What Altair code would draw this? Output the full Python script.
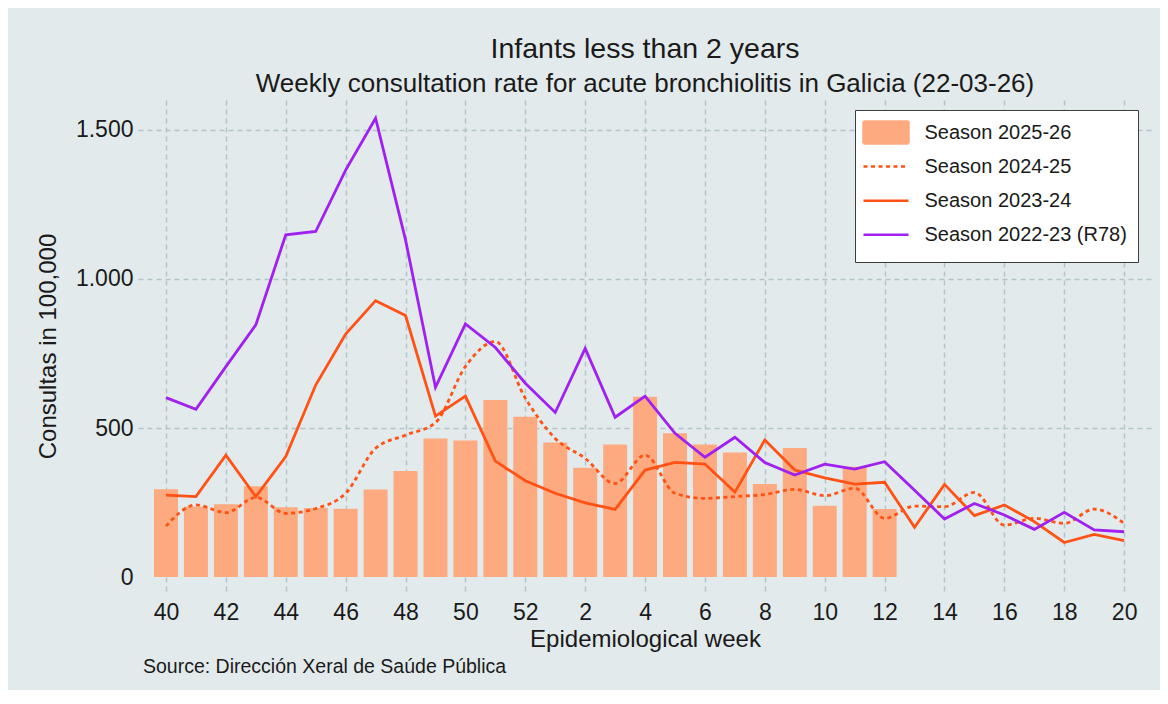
import altair as alt
import pandas as pd

# ---------------- data ----------------
weeks = [40, 41, 42, 43, 44, 45, 46, 47, 48, 49, 50, 51, 52,
         1, 2, 3, 4, 5, 6, 7, 8, 9, 10, 11, 12, 13, 14, 15, 16, 17, 18, 19, 20]

season_2025_26 = [295, 236, 244, 305, 234, 232, 229, 294, 356, 465, 458, 594, 538,
                  451, 367, 445, 605, 482, 445, 418, 312, 433, 239, 370, 228]

season_2024_25 = [171, 242, 216, 267, 214, 230, 281, 432, 476, 518, 706, 790, 600,
                  465, 398, 314, 409, 281, 264, 270, 277, 294, 273, 298, 197, 238,
                  236, 284, 174, 197, 180, 228, 180]

season_2023_24 = [275, 270, 409, 270, 404, 644, 815, 927, 877, 540, 607, 389, 323,
                  281, 249, 227, 359, 385, 379, 285, 460, 359, 333, 312, 318, 167,
                  311, 206, 242, 186, 116, 143, 122]

season_2022_23 = [602, 563, 706, 846, 1148, 1159, 1365, 1539, 1131, 636, 849, 770, 650,
                  552, 767, 536, 607, 482, 402, 469, 384, 342, 379, 362, 387, 291,
                  195, 247, 208, 160, 217, 158, 152]

series_names = ["Season 2025-26", "Season 2024-25", "Season 2023-24", "Season 2022-23 (R78)"]

y_ticks = [0, 500, 1000, 1500]

# ---------------- styles ----------------
FONT = "Liberation Sans"
TXT = "#1a1a1a"
BAR = "#fdaa80"
ORANGE = "#ff5214"
PURPLE = "#a020f0"
GRID = "#b2c5ca"
LW = 2.8

LINE_SYM = "M0,-1.1M-2.25,0H2.25M0,1.1"
leg_fill = [BAR, "transparent", "transparent", "transparent"]
leg_stroke = [BAR, ORANGE, ORANGE, PURPLE]
leg_shape = ["M-2.25,-1.1H2.25V1.1H-2.25Z", LINE_SYM, LINE_SYM, LINE_SYM]
leg_dash = [[1, 0], [4, 3.5], [1, 0], [1, 0]]

idx = list(range(len(weeks)))

bar_df = pd.DataFrame({"idx": idx[:len(season_2025_26)],
                       "week": weeks[:len(season_2025_26)],
                       "value": season_2025_26})


def line_df(vals):
    return pd.DataFrame({"idx": idx, "week": weeks, "value": vals})


df_2425 = line_df(season_2024_25)
df_2324 = line_df(season_2023_24)
df_2223 = line_df(season_2022_23)
legend_df = pd.DataFrame({"series": series_names})

week_arr = "[" + ",".join(str(w) for w in weeks) + "]"

x_enc = alt.X(
    "idx:Q",
    scale=alt.Scale(domain=[-0.935, 32.93], nice=False, zero=False, padding=0),
    axis=alt.Axis(
        values=list(range(0, len(weeks), 2)),
        labelExpr=week_arr + "[datum.value]",
        title="Epidemiological week",
        domain=False, ticks=False,
        labelFontSize=23, labelPadding=9, labelColor=TXT, labelFont=FONT,
        titleFontSize=24, titleFontWeight="normal", titlePadding=3,
        titleColor=TXT, titleFont=FONT,
        grid=True, gridColor=GRID, gridDash=[5, 4], gridWidth=1.5,
        labelFlush=False,
    ),
)

y_enc = alt.Y(
    "value:Q",
    scale=alt.Scale(domain=[-50, 1600], nice=False, zero=False),
    axis=alt.Axis(
        values=y_ticks,
        labelExpr="replace(format(datum.value, ','), ',', '.')",
        title="Consultas in 100,000",
        domain=False, ticks=False,
        labelFontSize=23, labelPadding=5, labelColor=TXT, labelFont=FONT,
        titleFontSize=24, titleFontWeight="normal", titlePadding=15,
        titleColor=TXT, titleFont=FONT,
        grid=True,
        gridColor={"condition": {"test": "datum.value === 0", "value": "transparent"},
                   "value": GRID},
        gridDash=[5, 4], gridWidth=1.5,
    ),
)

legend = alt.Legend(
    title=None,
    orient="none", legendX=717, legendY=10,
    padding=11, rowPadding=1.1,
    symbolSize=400, symbolStrokeWidth=2.5, symbolOpacity=1,
    symbolOffset=8.5, labelOffset=27,
    labelFontSize=20, labelFont=FONT, labelColor=TXT, labelLimit=400,
    fillColor="white", strokeColor="#3c3c3c", cornerRadius=0,
)

bars = alt.Chart(bar_df).mark_bar(size=24, color=BAR).encode(
    x=x_enc, y=y_enc, y2=alt.datum(0)
)

dotted = alt.Chart(df_2425).mark_line(
    strokeWidth=LW, strokeDash=[4, 3.5], interpolate="monotone", color=ORANGE
).encode(x="idx:Q", y="value:Q")

solid = alt.Chart(df_2324).mark_line(strokeWidth=LW, color=ORANGE).encode(
    x="idx:Q", y="value:Q")

purple = alt.Chart(df_2223).mark_line(strokeWidth=LW, color=PURPLE).encode(
    x="idx:Q", y="value:Q")

legend_layer = alt.Chart(legend_df).mark_point(
    opacity=0, filled=True, strokeWidth=2.5, size=400
).encode(
    fill=alt.Fill("series:N", scale=alt.Scale(domain=series_names, range=leg_fill), legend=legend),
    stroke=alt.Stroke("series:N", scale=alt.Scale(domain=series_names, range=leg_stroke), legend=legend),
    shape=alt.Shape("series:N", scale=alt.Scale(domain=series_names, range=leg_shape), legend=legend),
    strokeDash=alt.StrokeDash("series:N", scale=alt.Scale(domain=series_names, range=leg_dash), legend=legend),
)

source = alt.Chart(pd.DataFrame({"t": ["Source: Dirección Xeral de Saúde Pública"]})).mark_text(
    align="left", baseline="alphabetic", fontSize=19.5, font=FONT, color=TXT
).encode(x=alt.value(5), y=alt.value(573), text="t:N")

chart = alt.layer(bars, dotted, solid, purple, legend_layer, source).properties(
    width=1014, height=492,
    autosize=alt.AutoSizeParams(type="none"),
    padding={"left": 130, "top": 92, "right": 8, "bottom": 98},
    title=alt.TitleParams(
        text="Infants less than 2 years",
        subtitle="Weekly consultation rate for acute bronchiolitis in Galicia (22-03-26)",
        anchor="middle", frame="group",
        fontSize=28.5, font=FONT, fontWeight="normal", color=TXT,
        subtitleFontSize=26, subtitleFont=FONT, subtitleColor=TXT,
        subtitlePadding=8, offset=3,
    ),
).configure(background="#e3eaec").configure_view(fill="white", strokeWidth=0)

chart.save("out.html", embed_options={"renderer": "svg", "actions": False})
